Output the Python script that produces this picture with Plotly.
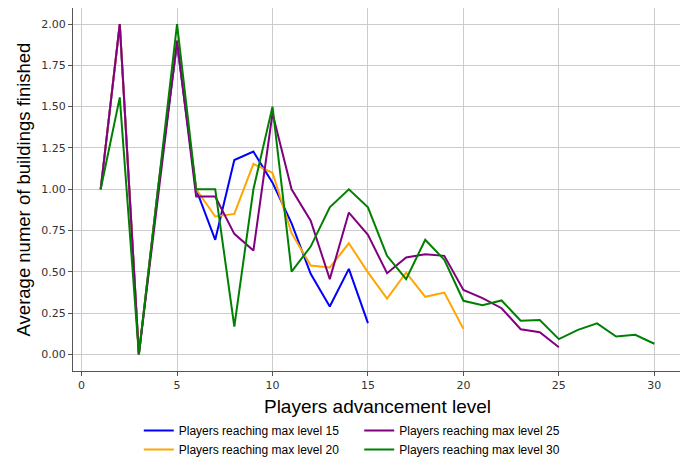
import plotly.graph_objects as go

levels_15 = list(range(1, 16))
values_15 = [1.0, 2.0, 0.0, 1.0, 1.88, 1.0, 0.694, 1.177, 1.228, 1.04, 0.794, 0.488, 0.29, 0.518, 0.19]

levels_20 = list(range(1, 21))
values_20 = [1.0, 2.0, 0.0, 1.0, 1.9, 1.0, 0.835, 0.851, 1.153, 1.10, 0.734, 0.538, 0.526, 0.673, 0.497,
             0.339, 0.496, 0.349, 0.375, 0.155]

levels_25 = list(range(1, 26))
values_25 = [1.0, 2.0, 0.0, 0.95, 1.90, 0.956, 0.956, 0.73, 0.629, 1.46, 1.0, 0.81, 0.456, 0.859, 0.724,
             0.492, 0.587, 0.607, 0.597, 0.391, 0.341, 0.28, 0.153, 0.135, 0.044]

levels_30 = list(range(1, 31))
values_30 = [1.0, 1.556, 0.0, 1.0, 2.0, 1.0, 1.0, 0.169, 1.0, 1.5, 0.502, 0.653, 0.891, 1.0, 0.891,
             0.597, 0.456, 0.694, 0.573, 0.325, 0.298, 0.327, 0.204, 0.208, 0.093, 0.149, 0.188, 0.109,
             0.119, 0.065]

names = ["Players reaching max level 15", "Players reaching max level 20",
         "Players reaching max level 25", "Players reaching max level 30"]
colors = ["blue", "orange", "purple", "green"]
legend_ids = ["legend", "legend", "legend2", "legend2"]

x_ticks = [0, 5, 10, 15, 20, 25, 30]
y_ticks = [0.0, 0.25, 0.5, 0.75, 1.0, 1.25, 1.5, 1.75, 2.0]
y_tick_labels = ["0.00", "0.25", "0.50", "0.75", "1.00", "1.25", "1.50", "1.75", "2.00"]

fig = go.Figure()
for xs, ys, nm, col, lg in zip([levels_15, levels_20, levels_25, levels_30],
                               [values_15, values_20, values_25, values_30],
                               names, colors, legend_ids):
    fig.add_trace(go.Scatter(x=xs, y=ys, mode="lines", name=nm,
                             line=dict(color=col, width=2), legend=lg))

axis_common = dict(
    showline=True, mirror=True, linecolor="#555555", linewidth=1,
    showgrid=True, gridcolor="#cccccc", gridwidth=1,
    ticks="outside", ticklen=4, tickcolor="#555555",
    tickfont=dict(family="DejaVu Sans", size=11, color="#333333"),
    zeroline=False, automargin=False,
)

# the page body has an 8px margin, so the figure is sized to the visible area
fig.update_layout(
    width=680, height=453,
    margin=dict(l=64.6, r=6, t=0, b=89.8, autoexpand=False),
    plot_bgcolor="white", paper_bgcolor="white",
    xaxis=dict(range=[-0.45, 31.45], tickvals=x_ticks,
               title=dict(text="Players advancement level",
                          font=dict(family="Liberation Sans", size=19, color="black"),
                          standoff=8),
               **axis_common),
    yaxis=dict(range=[-0.1, 2.097], tickvals=y_ticks, ticktext=y_tick_labels,
               title=dict(text="Average numer of buildings finished",
                          font=dict(family="Liberation Sans", size=18.5, color="black"),
                          standoff=5),
               **axis_common),
    legend=dict(x=0.108, y=-0.124, xanchor="left", yanchor="top",
                font=dict(family="Liberation Sans", size=12, color="black"),
                bgcolor="rgba(0,0,0,0)", tracegroupgap=0),
    legend2=dict(x=0.47, y=-0.124, xanchor="left", yanchor="top",
                 font=dict(family="Liberation Sans", size=12, color="black"),
                 bgcolor="rgba(0,0,0,0)", tracegroupgap=0),
    showlegend=True,
)

fig.write_html("out.html")
